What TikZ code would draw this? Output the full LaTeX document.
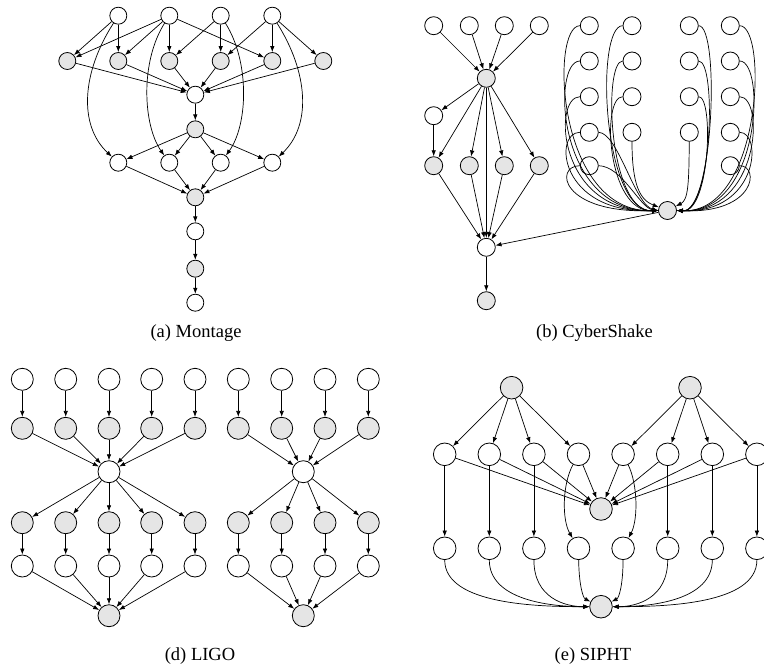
\documentclass[tikz,border=0pt]{standalone}
\usepackage{fontspec}
\setmainfont{Liberation Serif}
\usetikzlibrary{arrows.meta}
\begin{document}
\begin{tikzpicture}[x=1pt,y=-1pt,
  wn/.style={circle,draw,fill=white,inner sep=0pt,line width=0.8pt},
  gn/.style={wn,fill=black!10},
  ar/.style={-{Latex[length=6pt,width=4.5pt]},line width=0.7pt},
  captxt/.style={anchor=base,inner sep=0pt,font=\fontsize{18.5}{20}\selectfont}]
\useasboundingbox (0,0) rectangle (764,667);

% ---------------- (a) Montage ----------------
\begin{scope}[every node/.append style={minimum size=17pt}]
\foreach \i/\x in {1/118.3,2/169.3,3/220.7,4/272.3}{
  \node[wn] (mt\i) at (\x,15.7) {};
  \node[wn] (mw\i) at (\x,162.7) {};}
\foreach \i/\x in {1/67.3,2/118.3,3/169.3,4/220.7,5/272.3,6/323.3}
  \node[gn] (mg\i) at (\x,61) {};
\node[wn] (mc1) at (195.3,94.7) {};
\node[gn] (mc2) at (195.3,129.3) {};
\node[gn] (mc3) at (195.3,197.3) {};
\node[wn] (mc4) at (195.3,231.3) {};
\node[gn] (mc5) at (195.3,268.7) {};
\node[wn] (mc6) at (195.3,302.7) {};
\end{scope}
\foreach \a/\b in {mt1/mg1,mt1/mg2,mt2/mg1,mt2/mg2,mt2/mg3,mt2/mg5,mt3/mg3,mt3/mg4,
  mt4/mg4,mt4/mg5,mt4/mg6,mg1/mc1,mg2/mc1,mg3/mc1,mg4/mc1,mg5/mc1,mg6/mc1,mc1/mc2,
  mc2/mw1,mc2/mw2,mc2/mw3,mc2/mw4,mw1/mc3,mw2/mc3,mw3/mc3,mw4/mc3,mc3/mc4,mc4/mc5,mc5/mc6}
  \draw[ar] (\a) -- (\b);
\draw[ar] (mt1) .. controls (82,72) and (78,125) .. (mw1);
\draw[ar] (mt2) .. controls (140,62) and (143,125) .. (mw2);
\draw[ar] (mt3) .. controls (250,62) and (248,125) .. (mw3);
\draw[ar] (mt4) .. controls (308,72) and (312,125) .. (mw4);
\node[captxt] (capa) at (196,337) {(a) Montage};

% ---------------- (b) CyberShake ----------------
\begin{scope}[every node/.append style={minimum size=18pt}]
\foreach \i/\x in {1/433.7,2/469.3,3/504.3,4/539.3}{
  \node[wn] (ca\i) at (\x,25.7) {};
  \node[gn] (cr\i) at (\x,165.7) {};}
\node[gn] (ch) at (486.3,78.3) {};
\node[wn] (cb) at (433.7,115.7) {};
\node[wn] (cs) at (486.3,247.3) {};
\node[gn] (ce) at (486.3,300.7) {};
\foreach \r/\y in {1/25.7,2/61,3/96.7,4/132.3,5/165.7}{
  \node[wn] (p1\r) at (589.3,\y) {};
  \node[wn] (p4\r) at (730.3,\y) {};}
\foreach \r/\y in {1/25.7,2/61,3/96.7,4/132.3}{
  \node[wn] (p2\r) at (632,\y) {};
  \node[wn] (p3\r) at (689.3,\y) {};}
\node[gn] (cc) at (667.5,210.5) {};
\end{scope}
\foreach \a/\b in {ca1/ch,ca2/ch,ca3/ch,ca4/ch,ch/cb,cb/cr1,ch/cr1,ch/cr2,ch/cr3,ch/cr4,
  ch/cs,cr1/cs,cr2/cs,cr3/cs,cr4/cs,cs/ce,cc/cs}
  \draw[ar] (\a) -- (\b);
% column 1
\draw[ar] (p11.west) .. controls (550,25.7) and (556,214) .. (cc.west);
\draw[ar] (p12.west) .. controls (551,61) and (557,214) .. (cc.west);
\draw[ar] (p13.west) .. controls (552,96.7) and (558,214) .. (cc.west);
\draw[ar] (p14.west) .. controls (553,132.3) and (559,214) .. (cc.west);
\draw[ar] (p15.west) .. controls (554,165.7) and (560,214) .. (cc.west);
\draw[ar] (p14.east) .. controls (618,133) and (635,205) .. (cc.west);
\draw[ar] (p15.east) .. controls (622,166) and (640,208) .. (cc.west);
% column 2
\draw[ar] (p21.west) .. controls (595,25.7) and (602,213) .. (cc.west);
\draw[ar] (p22.west) .. controls (603,61) and (608,213) .. (cc.west);
\draw[ar] (p23.west) .. controls (601,96.7) and (607,213) .. (cc.west);
\draw[ar] (p24) .. controls (632,185) and (640,200) .. (cc);
% column 3
\draw[ar] (p31.east) .. controls (720,25.7) and (714,213) .. (cc.east);
\draw[ar] (p32.east) .. controls (717,61) and (712,213) .. (cc.east);
\draw[ar] (p33.east) .. controls (714,96.7) and (710,213) .. (cc.east);
\draw[ar] (p34) .. controls (689,185) and (688,200) .. (cc);
% column 4
\draw[ar] (p41.east) .. controls (768,25.7) and (762,214) .. (cc.east);
\draw[ar] (p42.east) .. controls (766,61) and (761,214) .. (cc.east);
\draw[ar] (p43.east) .. controls (765,96.7) and (760,214) .. (cc.east);
\draw[ar] (p44.east) .. controls (763,132.3) and (758,214) .. (cc.east);
\draw[ar] (p45.east) .. controls (760,165.7) and (756,214) .. (cc.east);
\node[captxt] (capb) at (594.5,337) {(b) CyberShake};

% ---------------- (d) LIGO ----------------
\begin{scope}[every node/.append style={minimum size=22pt}]
\foreach \i/\x in {1/22.3,2/65.7,3/109,4/151.7,5/195}{
  \node[wn] (la\i) at (\x,379.3) {};
  \node[gn] (lb\i) at (\x,428.3) {};
  \node[gn] (ld\i) at (\x,522.7) {};
  \node[wn] (le\i) at (\x,566) {};}
\node[wn] (lh) at (109,471.7) {};
\node[gn] (ls) at (109,615.7) {};
\foreach \i/\x in {1/238.3,2/281.7,3/325,4/368.3}{
  \node[wn] (ra\i) at (\x,379.3) {};
  \node[gn] (rb\i) at (\x,428.3) {};
  \node[gn] (rd\i) at (\x,522.7) {};
  \node[wn] (re\i) at (\x,566) {};}
\node[wn] (rh) at (303.3,471.7) {};
\node[gn] (rs) at (303.3,615.7) {};
\end{scope}
\foreach \i in {1,...,5}{
  \draw[ar] (la\i) -- (lb\i);
  \draw[ar] (lb\i) -- (lh);
  \draw[ar] (lh) -- (ld\i);
  \draw[ar] (ld\i) -- (le\i);
  \draw[ar] (le\i) -- (ls);}
\foreach \i in {1,...,4}{
  \draw[ar] (ra\i) -- (rb\i);
  \draw[ar] (rb\i) -- (rh);
  \draw[ar] (rh) -- (rd\i);
  \draw[ar] (rd\i) -- (re\i);
  \draw[ar] (re\i) -- (rs);}
\node[captxt] (capd) at (200,660) {(d) LIGO};

% ---------------- (e) SIPHT ----------------
\begin{scope}[every node/.append style={minimum size=22.6pt}]
\node[gn] (sg1) at (511.6,387.7) {};
\node[gn] (sg2) at (690,387.7) {};
\foreach \i in {1,...,8}{
  \pgfmathsetmacro\sx{444.7+44.6*(\i-1)}
  \node[wn] (sr\i) at (\sx,454.3) {};
  \node[wn] (sq\i) at (\sx,548.3) {};}
\node[gn] (sc) at (601,509) {};
\node[gn] (sb) at (601,606.7) {};
\end{scope}
\foreach \i in {1,...,4} \draw[ar] (sg1) -- (sr\i);
\foreach \i in {5,...,8} \draw[ar] (sg2) -- (sr\i);
\foreach \i in {1,...,8} \draw[ar] (sr\i) -- (sc);
\foreach \i in {1,2,3,6,7,8} \draw[ar] (sr\i) -- (sq\i);
\draw[ar] (sr4) .. controls (562,485) and (562,520) .. (sq4);
\draw[ar] (sr5) .. controls (638,485) and (638,520) .. (sq5);
\draw[ar] (sq1.south) .. controls (444.7,605) and (540,606.7) .. (sb.west);
\draw[ar] (sq2.south) .. controls (489.3,600) and (550,606.7) .. (sb.west);
\draw[ar] (sq3.south) .. controls (533.9,598) and (565,606.7) .. (sb.west);
\draw[ar] (sq4) .. controls (579,585) and (583,598) .. (sb);
\draw[ar] (sq5) .. controls (623,585) and (619,598) .. (sb);
\draw[ar] (sq6.south) .. controls (667.7,598) and (637,606.7) .. (sb.east);
\draw[ar] (sq7.south) .. controls (712.3,600) and (652,606.7) .. (sb.east);
\draw[ar] (sq8.south) .. controls (756.9,605) and (662,606.7) .. (sb.east);
\node[captxt] (cape) at (593,660) {(e) SIPHT};
\end{tikzpicture}
\end{document}
